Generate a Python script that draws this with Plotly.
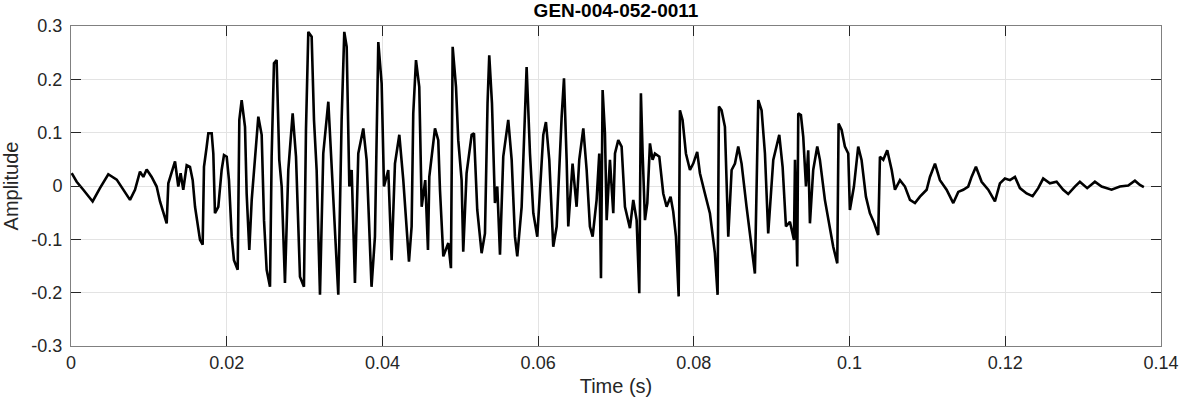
import plotly.graph_objects as go

# Time (ms) and amplitude of the waveform vertices
time_ms = [
    0.09, 0.73, 1.58, 2.78, 3.72, 4.79, 5.87, 6.72, 7.58, 8.22, 8.86, 9.29, 9.72, 10.36, 11.0, 11.43,
    11.86, 12.29, 12.5, 12.93, 13.36, 13.78, 14.08, 14.42, 14.86, 15.28, 15.63, 15.93, 16.22, 16.57,
    16.91, 17.08, 17.43, 17.64, 18.07, 18.28, 18.49, 18.92, 19.35, 19.65, 20.0, 20.29, 20.64, 20.93,
    21.41, 21.62, 21.92,
    22.35, 22.56, 22.9, 23.21, 23.63, 24.06, 24.49, 24.79, 25.13, 25.56, 25.77, 26.07, 26.41, 26.75,
    27.06, 27.48, 27.91, 28.47, 28.9, 29.41, 29.92, 30.18, 30.48, 30.91, 31.21, 31.55, 31.98, 32.4,
    33.05, 33.34, 34.03, 34.33, 34.76, 35.1, 35.41, 35.75, 36.05, 36.47, 36.9, 37.54, 37.97, 38.6,
    39.04, 39.47, 39.9, 40.2, 40.75, 41.18, 41.61, 42.17, 42.68, 43.11, 43.41, 43.75, 43.96, 44.31,
    44.73, 45.04, 45.5,
    45.85, 46.02, 46.75, 47.17, 47.39, 47.82, 48.46, 48.8, 49.02, 49.45, 49.74, 50.17, 50.38, 50.81,
    51.46, 51.76, 52.18, 52.74, 53.17, 53.5, 53.72, 54.07, 54.45, 54.75, 55.1, 55.52, 56.16, 56.6,
    57.02, 57.32, 57.88, 58.31, 58.52, 58.95, 59.38, 59.89, 60.23, 60.66, 61.0, 61.43, 61.94, 62.38,
    63.02, 63.32, 63.66, 63.87, 64.42, 64.94, 65.28, 65.8, 66.23, 66.65, 67.0, 67.51, 67.85, 68.07,
    68.28,
    68.58, 68.8, 69.22, 69.65, 69.87, 70.29, 70.72, 71.15, 71.79, 72.22, 72.65, 72.99, 73.2, 73.42,
    73.72, 74.02, 74.36, 74.7, 75.0, 75.56, 76.07, 76.5, 77.01, 77.35, 77.7, 78.05, 78.21, 78.55,
    78.98, 79.5, 79.92, 80.43, 80.78, 81.42, 82.06, 82.7, 83.05, 83.22, 83.56, 83.99, 84.42, 84.85,
    85.28, 85.7, 86.13, 86.77, 87.41, 87.84, 88.06, 88.27, 88.7, 89.13, 89.55, 90.2, 90.97, 91.4,
    91.83,
    92.34, 92.86, 92.99, 93.28, 93.41, 93.75, 94.05, 94.4, 94.69, 94.91, 95.33, 95.85, 96.19, 96.83,
    97.48, 97.9, 98.42, 98.59, 98.98, 99.4, 99.83, 100.04, 100.56, 101.11, 101.54, 102.1, 102.61,
    103.17, 103.68, 103.9, 104.33, 104.84, 105.41, 105.83, 106.47, 107.11, 107.76, 108.4, 109.04,
    109.9, 110.32, 110.97, 111.61, 112.46, 113.32, 113.96, 114.6, 115.24,
    115.67, 116.23, 116.96, 117.81, 118.67, 119.31, 119.95, 120.6, 121.24, 121.88, 122.74, 123.51,
    124.23, 124.87, 125.73, 126.59, 127.44, 128.08, 128.94, 129.58, 130.52, 131.51, 132.37, 133.65,
    134.72, 135.79, 136.65, 137.29, 137.8,
]

amplitude = [
    0.024, 0.008, -0.007, -0.029, -0.004, 0.022, 0.012, -0.007, -0.026, -0.007, 0.027, 0.017, 0.031,
    0.017, -0.001, -0.029, -0.048, -0.07, 0.005, 0.027, 0.046, -0.001, 0.024, -0.007, 0.039, 0.036,
    0.011, -0.039, -0.064, -0.101, -0.11, 0.036, 0.074, 0.099, 0.099, 0.061, -0.051, -0.039, 0.03,
    0.058, 0.055, 0.011, -0.095, -0.139, -0.157, 0.124, 0.161,
    0.111, -0.014, -0.12, -0.026, 0.055, 0.13, 0.096, -0.064, -0.157, -0.189, 0.055, 0.23, 0.236,
    0.049, -0.001, -0.182, 0.03, 0.136, 0.055, -0.17, -0.189, 0.105, 0.289, 0.28, 0.124, 0.03,
    -0.204, 0.061, 0.158, 0.074, -0.126, -0.204, 0.124, 0.289, 0.261, -0.001, 0.03, -0.182, 0.061,
    0.108, 0.049, -0.189, -0.095, 0.27, 0.192, -0.001, 0.03, -0.139, 0.042, 0.096, 0.011, -0.089,
    -0.142, -0.076, 0.136, 0.236, 0.186, -0.039, 0.011,
    -0.12, 0.017, 0.108, 0.086, -0.007, -0.132, -0.107, -0.154, 0.261, 0.186, 0.086, 0.011, -0.123,
    0.024, 0.096, 0.099, -0.045, -0.126, -0.089, 0.155, 0.245, 0.155, -0.032, -0.001, -0.129, 0.055,
    0.124, 0.049, -0.095, -0.132, -0.039, 0.13, 0.223, 0.061, -0.051, -0.095, -0.001, 0.096, 0.12,
    0.049, -0.114, -0.076, 0.13, 0.202, 0.049, -0.076, 0.042, -0.039, 0.049, 0.108, 0.03, -0.076,
    -0.095, -0.026, 0.061, -0.173, 0.18,
    0.099, -0.064, 0.049, -0.051, 0.061, 0.086, 0.074, -0.039, -0.079, -0.026, -0.064, -0.201, 0.174,
    0.061, -0.064, -0.032, 0.08, 0.049, 0.061, 0.055, -0.014, -0.039, -0.02, -0.048, -0.095, -0.207,
    0.142, 0.124, 0.061, 0.03, 0.042, 0.064, 0.024, -0.014, -0.051, -0.126, -0.204, 0.149, 0.142,
    0.111, -0.095, 0.03, 0.042, 0.074, 0.042, -0.039, -0.114, -0.164, -0.001, 0.161, 0.142, 0.061,
    -0.089, 0.049, 0.096, 0.036, -0.076,
    -0.067, -0.101, 0.049, -0.151, 0.136, 0.133, 0.092, -0.001, 0.067, -0.07, 0.03, 0.074, 0.049,
    -0.026, -0.076, -0.114, -0.145, 0.117, 0.105, 0.074, 0.061, -0.045, -0.001, 0.074, 0.049, -0.02,
    -0.051, -0.07, -0.092, 0.055, 0.049, 0.067, 0.03, -0.007, 0.011, -0.001, -0.026, -0.032, -0.02,
    -0.007, 0.017, 0.042, 0.011, -0.007, -0.032, -0.011, -0.007, -0.001,
    0.017, 0.036, 0.008, -0.007, -0.029, 0.005, 0.014, 0.011, 0.017, -0.004, -0.014, -0.019, -0.004,
    0.014, 0.005, 0.008, -0.007, -0.015, -0.001, 0.008, -0.004, 0.008, -0.001, -0.007, -0.001, 0.001,
    0.01, 0.002, -0.002,
]

x_tick_vals = [0, 0.02, 0.04, 0.06, 0.08, 0.1, 0.12, 0.14]
x_tick_text = ["0", "0.02", "0.04", "0.06", "0.08", "0.1", "0.12", "0.14"]
y_tick_vals = [-0.3, -0.2, -0.1, 0, 0.1, 0.2, 0.3]
y_tick_text = ["-0.3", "-0.2", "-0.1", "0", "0.1", "0.2", "0.3"]

chart_title = "GEN-004-052-0011"
x_title = "Time (s)"
y_title = "Amplitude"

time_s = [t / 1000.0 for t in time_ms]

fig = go.Figure()
fig.add_trace(go.Scatter(
    x=time_s, y=amplitude, mode="lines",
    line=dict(color="black", width=2.6),
    hoverinfo="skip", showlegend=False,
))

font_family = "Liberation Sans, Arial, sans-serif"
axis_common = dict(
    showline=True, linecolor="#808080", linewidth=1, mirror="ticks",
    ticks="inside", ticklen=10, tickcolor="#262626", tickwidth=1,
    showgrid=True, gridcolor="#e3e3e3", gridwidth=1,
    zeroline=False, automargin=False,
    tickfont=dict(family=font_family, size=18, color="#262626"),
)

fig.update_layout(
    width=1182, height=404,
    margin=dict(l=71, r=21, t=26, b=58),
    paper_bgcolor="white", plot_bgcolor="white",
    title=dict(text="<b>" + chart_title + "</b>", x=(71 + 1161) / 2 / 1182, xanchor="center",
               y=1 - 10 / 404, yanchor="middle",
               font=dict(family=font_family, size=19, color="#000000")),
    xaxis=dict(range=[0, 0.14], tickvals=x_tick_vals, ticktext=x_tick_text,
               title=dict(text=x_title, font=dict(family=font_family, size=20, color="#262626"), standoff=7),
               **axis_common),
    yaxis=dict(range=[-0.3, 0.3], tickvals=y_tick_vals, ticktext=y_tick_text,
               ticklabelstandoff=4,
               title=dict(text=y_title, font=dict(family=font_family, size=20, color="#262626"), standoff=8),
               **axis_common),
)

fig.write_html("out.html", config={"displayModeBar": False},
               post_script="document.body.style.margin='0px';")
